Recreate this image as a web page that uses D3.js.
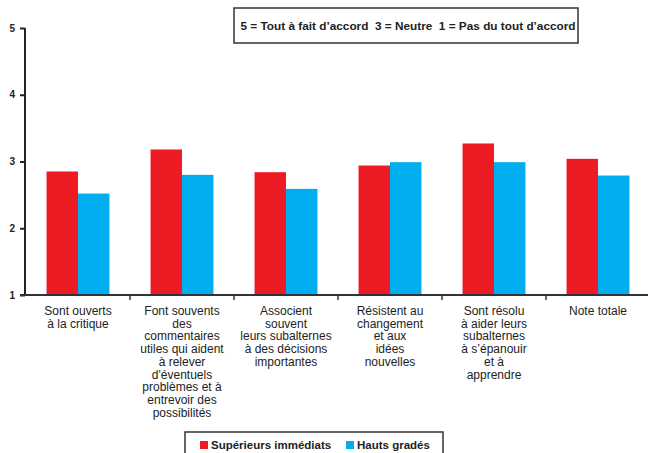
<!DOCTYPE html>
<html>
<head>
<meta charset="utf-8">
<script src="https://cdn.jsdelivr.net/npm/d3@7"></script>
<style>
  html, body { margin: 0; padding: 0; background: #fff; }
  svg { display: block; font-family: "Liberation Sans", Arial, sans-serif; }
</style>
</head>
<body>
<svg id="chart" width="648" height="453"></svg>
<script>
// Category labels, one entry per line of the wrapped label
const categories = [
  ["Sont ouverts", "à la critique"],
  ["Font souvents", "des", "commentaires", "utiles qui aident", "à relever", "d'éventuels", "problèmes et à", "entrevoir des", "possibilités"],
  ["Associent", "souvent", "leurs subalternes", "à des décisions", "importantes"],
  ["Résistent au", "changement", "et aux", "idées", "nouvelles"],
  ["Sont résolu", "à aider leurs", "subalternes", "à s’épanouir", "et à", "apprendre"],
  ["Note totale"]
];
const seriesNames = ["Supérieurs immédiats", "Hauts gradés"];
const superieurs = [2.85, 3.18, 2.84, 2.94, 3.27, 3.04];
const hautsGrades = [2.52, 2.80, 2.59, 2.99, 2.99, 2.79];
const yTicks = [1, 2, 3, 4, 5];
const scaleNote = "5 = Tout à fait d’accord  3 = Neutre  1 = Pas du tout d’accord";

const colors = ["#ed1c24", "#00adef"];
const ink = "#222";

const svg = d3.select("#chart");

const x = d3.scaleBand()
  .domain(d3.range(categories.length))
  .range([26, 650])
  .paddingInner(0.395)
  .paddingOuter(0.1975);

const xSub = d3.scaleBand()
  .domain([0, 1])
  .range([0, x.bandwidth()]);

const y = d3.scaleLinear().domain([1, 5]).range([295, 28]);

// Bars
const series = [superieurs, hautsGrades];
series.forEach((vals, s) => {
  svg.append("g").selectAll("rect")
    .data(vals)
    .join("rect")
    .attr("x", (d, i) => x(i) + xSub(s))
    .attr("y", d => y(d))
    .attr("width", xSub.bandwidth())
    .attr("height", d => y(1) - y(d))
    .attr("fill", colors[s]);
});

// Y axis
const yAxis = svg.append("g")
  .attr("transform", "translate(25,0)")
  .call(d3.axisLeft(y).tickValues(yTicks).tickFormat(d3.format("d")).tickSize(5).tickPadding(5));
yAxis.select(".domain").attr("stroke", ink).attr("stroke-width", 2)
  .attr("d", `M0,${y(5)}V${y(1)}`);
yAxis.selectAll(".tick line").attr("stroke", ink).attr("stroke-width", 2);
yAxis.selectAll(".tick text")
  .attr("fill", ink).style("font-size", "10px").style("font-weight", "bold");

// X axis baseline with separators between categories
const xAxisG = svg.append("g");
xAxisG.append("line")
  .attr("x1", 20).attr("x2", 648)
  .attr("y1", y(1)).attr("y2", y(1))
  .attr("stroke", "#333").attr("stroke-width", 2);
const step = x.step();
xAxisG.selectAll("line.sep")
  .data(d3.range(1, categories.length))
  .join("line")
  .attr("class", "sep")
  .attr("x1", i => x(i) - x.paddingInner() * step / 2)
  .attr("x2", i => x(i) - x.paddingInner() * step / 2)
  .attr("y1", y(1)).attr("y2", y(1) + 5)
  .attr("stroke", "#333").attr("stroke-width", 1.5);

// Category labels
const labels = svg.append("g")
  .selectAll("text")
  .data(categories)
  .join("text")
  .attr("x", (d, i) => x(i) + x.bandwidth() / 2)
  .attr("y", 315)
  .attr("text-anchor", "middle")
  .attr("fill", ink)
  .style("font-size", "12px");
labels.selectAll("tspan")
  .data(d => d)
  .join("tspan")
  .attr("x", function () { return this.parentNode.getAttribute("x"); })
  .attr("dy", (d, i) => i === 0 ? 0 : 12.7)
  .text(d => d);

// Scale note box
const note = svg.append("g");
note.append("rect")
  .attr("x", 234).attr("y", 8).attr("width", 344).attr("height", 35)
  .attr("fill", "#fff").attr("stroke", "#333").attr("stroke-width", 1.5);
note.append("text")
  .attr("x", 408).attr("y", 30)
  .attr("text-anchor", "middle")
  .attr("fill", ink)
  .style("white-space", "pre")
  .style("font-size", "11.8px").style("font-weight", "bold")
  .text(scaleNote);

// Legend
const legend = svg.append("g");
legend.append("rect")
  .attr("x", 185).attr("y", 432).attr("width", 258).attr("height", 30)
  .attr("fill", "#fff").attr("stroke", "#333").attr("stroke-width", 1.5);
const legendX = [200, 346];
seriesNames.forEach((name, s) => {
  legend.append("rect")
    .attr("x", legendX[s]).attr("y", 441)
    .attr("width", 8).attr("height", 8)
    .attr("fill", colors[s]);
  legend.append("text")
    .attr("x", legendX[s] + 11).attr("y", 449)
    .attr("fill", ink)
    .style("font-size", "11.5px").style("font-weight", "bold")
    .text(name);
});
</script>
</body>
</html>
